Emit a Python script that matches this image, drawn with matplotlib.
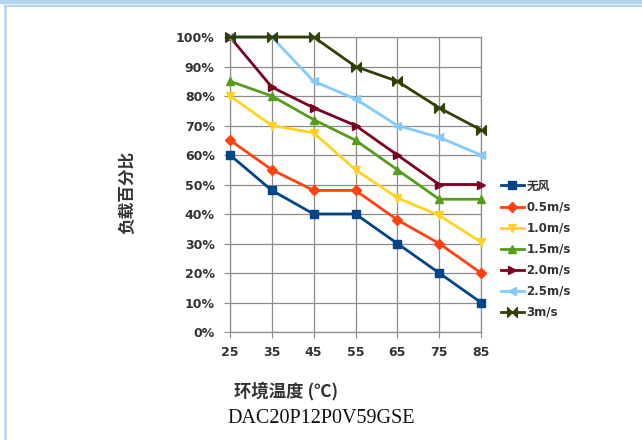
import numpy as np
import matplotlib
matplotlib.use("Agg")
import matplotlib.pyplot as plt
from matplotlib.patches import Rectangle
from matplotlib.lines import Line2D

plt.rcParams['font.family'] = ['DejaVu Sans', 'Noto Sans CJK SC']

temps = [25, 35, 45, 55, 65, 75, 85]
no_wind = [60, 48, 40, 40, 30, 20, 10]
wind_05 = [65, 55, 48, 48, 38, 30, 20]
wind_10 = [80, 70, 67.5, 55, 45.5, 39.5, 30.5]
wind_15 = [85, 80, 72, 65, 55, 45, 45]
wind_20 = [100, 83, 76, 70, 60, 50, 50]
wind_25 = [100, 100, 85, 79, 70, 66, 60]
wind_30 = [100, 100, 100, 90, 85, 76, 68.5]
labels = ['无风', '0.5m/s', '1.0m/s', '1.5m/s', '2.0m/s', '2.5m/s', '3m/s']
series = [no_wind, wind_05, wind_10, wind_15, wind_20, wind_25, wind_30]
y_ticks = [0, 10, 20, 30, 40, 50, 60, 70, 80, 90, 100]

colors = ['#004586', '#ff420e', '#ffd320', '#579d1c', '#7e0021', '#83caff', '#314004']
bowtie = [(-1, -1), (-1, 1), (1, -1), (1, 1), (-1, -1)]
markers = ['s', 'D', 'v', '^', '>', '<', bowtie]
msizes = [6, 5, 6, 6, 6, 6, 7]

fig = plt.figure(figsize=(6.42, 4.40), dpi=100)
ax = fig.add_axes([230 / 642, 1 - 332 / 440, 251 / 642, 295 / 440])

for vals, lab, c, m, ms in zip(series, labels, colors, markers, msizes):
    ax.plot(temps, vals, color=c, lw=2.0, marker=m, markersize=ms,
            markeredgecolor=c, label=lab, clip_on=False, zorder=3)

ax.set_xlim(25, 85)
ax.set_ylim(0, 100)
ax.set_xticks(temps)
ax.set_yticks(y_ticks)
ax.set_yticklabels([f'{v}%' for v in y_ticks])
ax.grid(True, color='#8c8c8c', lw=0.9)
ax.set_axisbelow(True)
for sp in ax.spines.values():
    sp.set_color('#8c8c8c')
    sp.set_linewidth(0.9)
ax.tick_params(axis='both', length=4, color='#8c8c8c', labelsize=9,
               labelcolor='#333333')
ax.tick_params(axis='y', pad=7)
ax.tick_params(axis='x', pad=6)
for t in ax.get_xticklabels() + ax.get_yticklabels():
    t.set_fontweight('bold')

ax.set_ylabel('负载百分比', fontsize=12, fontweight='bold', color='#333333',
              family=['Noto Sans CJK SC'])
ax.yaxis.set_label_coords(136 / 642, 1 - 192 / 440, transform=fig.transFigure)
fig.text(286 / 642, 1 - 391 / 440, '环境温度 (℃)', fontsize=12.5, fontweight='bold',
         color='#333333', ha='center', va='center', family=['Noto Sans CJK SC'])
fig.text(321 / 642, 1 - 418 / 440, 'DAC20P12P0V59GSE', fontsize=14.5,
         family=['Liberation Serif'], ha='center', va='center', color='#111111')

leg = ax.legend(loc='upper left', bbox_to_anchor=(490 / 642, 1 - 169 / 440),
                bbox_transform=fig.transFigure, frameon=False,
                handlelength=2.0, handletextpad=0.2, labelspacing=0.68,
                prop={'weight': 'bold', 'size': 8.5,
                      'family': ['DejaVu Sans', 'Noto Sans CJK SC']})
for t in leg.get_texts():
    t.set_color('#333333')

# page frame
fig.patches.append(Rectangle((0, 1 - 3.5 / 440), 1, 3.5 / 440, transform=fig.transFigure,
                             color='#b5d2ee', zorder=0))
fig.lines.append(Line2D([5 / 642, 1], [1 - 6 / 440, 1 - 6 / 440], transform=fig.transFigure,
                        color='#b5d2ee', lw=1.5))
fig.lines.append(Line2D([5.5 / 642, 5.5 / 642], [0, 1 - 6 / 440], transform=fig.transFigure,
                        color='#b5d2ee', lw=1.8))

fig.savefig('out.png', dpi=100)
